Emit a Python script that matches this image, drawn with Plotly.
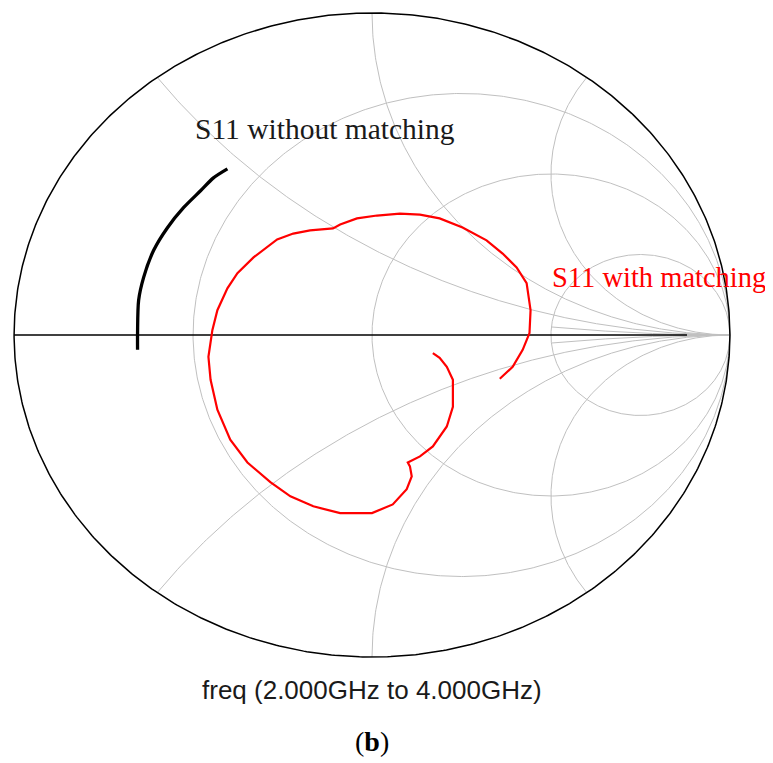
import numpy as np
import plotly.graph_objects as go

s11_nomatch_re = [-0.655, -0.655, -0.652, -0.638, -0.610, -0.571, -0.526, -0.479, -0.443, -0.404]
s11_nomatch_im = [-0.046, 0.006, 0.108, 0.179, 0.263, 0.334, 0.396, 0.448, 0.488, 0.516]

s11_match_re = [0.357, 0.393, 0.421, 0.440, 0.443, 0.432, 0.404, 0.365, 0.320, 0.253,
                0.189, 0.134, 0.078, 0.014, -0.042, -0.089, -0.109, -0.139, -0.173, -0.220,
                -0.265, -0.331, -0.376, -0.404, -0.432, -0.446, -0.457, -0.451, -0.432, -0.396,
                -0.348, -0.284, -0.228, -0.164, -0.089, 0.000, 0.058, 0.097, 0.111, 0.106,
                0.100, 0.134, 0.170, 0.209, 0.226, 0.226, 0.209, 0.189, 0.170]
s11_match_im = [-0.136, -0.099, -0.046, 0.006, 0.077, 0.161, 0.210, 0.253, 0.294, 0.334,
                0.362, 0.374, 0.377, 0.371, 0.362, 0.343, 0.331, 0.328, 0.325, 0.315,
                0.297, 0.241, 0.192, 0.145, 0.077, 0.015, -0.068, -0.139, -0.232, -0.325,
                -0.396, -0.457, -0.501, -0.532, -0.553, -0.553, -0.526, -0.479, -0.439, -0.408,
                -0.396, -0.377, -0.346, -0.284, -0.223, -0.139, -0.099, -0.071, -0.056]

# Smith chart grid values
grid_resistance = [1 / 3, 1, 3]
grid_reactance = [0.5, 1, 2]
grid_reactance_short = [0.2]     # drawn only from r = 3 outward
short_start_r = 3

freq_label = "freq (2.000GHz to 4.000GHz)"
label_nomatch = "S11 without matching"
label_match = "S11 with matching"
panel_label = "(<b>b</b>)"

GRID = "rgb(192,192,192)"

fig = go.Figure()


def add_line(x, y, color, width):
    fig.add_trace(go.Scatter(x=x, y=y, mode="lines", hoverinfo="skip",
                             line=dict(color=color, width=width)))


def gamma(z):
    return (z - 1) / (z + 1)


t = np.linspace(0, 2 * np.pi, 721)
for r in grid_resistance:
    c = r / (1 + r)
    rad = 1 / (1 + r)
    add_line(c + rad * np.cos(t), rad * np.sin(t), GRID, 1)

rr_full = np.concatenate([np.linspace(0, 5, 500), np.geomspace(5, 1e5, 300)])
for xv in grid_reactance:
    for s in (1, -1):
        g = gamma(rr_full + 1j * s * xv)
        add_line(g.real, g.imag, GRID, 1)

rr_short = np.concatenate([np.linspace(short_start_r, 10, 200), np.geomspace(10, 1e5, 200)])
for xv in grid_reactance_short:
    for s in (1, -1):
        g = gamma(rr_short + 1j * s * xv)
        add_line(g.real, g.imag, GRID, 1)

# real axis
add_line([0.88, 1.0], [0, 0], GRID, 2)
add_line([-1.0, 0.88], [0, 0], "black", 1.5)

# outer unit circle
add_line(np.cos(t), np.sin(t), "black", 1.5)

# data traces
fig.add_trace(go.Scatter(x=s11_nomatch_re, y=s11_nomatch_im, mode="lines",
                         line=dict(color="black", width=3.3, shape="spline", smoothing=0.8),
                         name=label_nomatch))
fig.add_trace(go.Scatter(x=s11_match_re, y=s11_match_im, mode="lines",
                         line=dict(color="red", width=2.2),
                         name=label_match))

serif = "Liberation Serif"
fig.add_annotation(x=-0.13, y=0.64, xref="x", yref="y", text=label_nomatch, showarrow=False,
                   xanchor="center", yanchor="middle",
                   font=dict(family=serif, size=29.5, color="#1a1a1a"))
fig.add_annotation(x=0.802, y=0.179, xref="x", yref="y", text=label_match, showarrow=False,
                   xanchor="center", yanchor="middle",
                   font=dict(family=serif, size=28.5, color="red"))
fig.add_annotation(x=0.5, y=-0.049, xref="paper", yref="paper", text=freq_label, showarrow=False,
                   xanchor="center", yanchor="middle",
                   font=dict(family="Liberation Sans", size=26, color="#1a1a1a"))
fig.add_annotation(x=0.5, y=-0.129, xref="paper", yref="paper", text=panel_label, showarrow=False,
                   xanchor="center", yanchor="middle",
                   font=dict(family=serif, size=28, color="black"))

# page has an 8px body margin, so the figure is sized to fit the 773x763 window
fig.update_layout(
    width=765, height=755,
    margin=dict(l=5, r=42, t=3.5, b=104.5),
    paper_bgcolor="white", plot_bgcolor="white",
    showlegend=False,
    xaxis=dict(range=[-1.003, 1.003], visible=False, fixedrange=True),
    yaxis=dict(range=[-1.003, 1.003], visible=False, fixedrange=True),
)

fig.write_html("out.html")
